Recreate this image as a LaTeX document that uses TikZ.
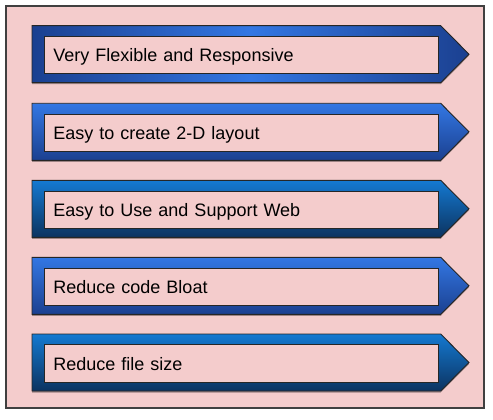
\documentclass[tikz,border=0pt]{standalone}
\usepackage{fontspec}
\setmainfont{Liberation Sans}
\usetikzlibrary{shadows}
\definecolor{bgpink}{HTML}{F4CCCC}
\definecolor{framegray}{HTML}{404040}
\definecolor{bluelight}{HTML}{3377E3}
\definecolor{bluedark}{HTML}{1B4090}
\definecolor{tealtop}{HTML}{1479D1}
\definecolor{tealbot}{HTML}{0C3360}
\tikzset{
  frame/.style={draw=framegray, line width=1.5pt, fill=bgpink},
  arrowbox/.style={draw=black!85, line width=0.9pt,
    drop shadow={shadow xshift=0pt, shadow yshift=-1.5pt, opacity=0.35, fill=black}},
  shA/.style={left color=bluedark, right color=bluedark, middle color=bluelight},
  shB/.style={top color=bluelight, bottom color=bluedark},
  shC/.style={top color=tealtop, bottom color=tealbot},
  innerbox/.style={draw=black!85, line width=0.9pt, fill=bgpink,
    anchor=north west, minimum width=393.7pt, minimum height=37.3pt,
    text width=375.7pt, inner xsep=9pt, inner ysep=0pt, align=left,
    text height=14.5pt, text depth=1pt,
    font=\fontsize{18}{21}\selectfont, text=black}
}
\begin{document}
\begin{tikzpicture}[x=1pt,y=-1pt]
\useasboundingbox (0,0) rectangle (493,420);
\fill[white] (0,0) rectangle (493,420);
\draw[frame] (6,6) rectangle (484,408);
\foreach \t/\sh/\txt/\nm in {25.7/shA/Very Flexible and Responsive/a,
                              103.3/shB/Easy to create 2-D layout/b,
                              180.3/shC/Easy to Use and Support Web/c,
                              257.3/shB/Reduce code Bloat/d,
                              334.0/shC/Reduce file size/e}{
  \draw[arrowbox,\sh] (32,\t) -- (440.7,\t) -- (469,\t+28.5)
      -- (440.7,\t+57) -- (32,\t+57) -- cycle;
  \node[innerbox] (\nm) at (44,\t+10.3) {\txt};
}
\end{tikzpicture}
\end{document}
